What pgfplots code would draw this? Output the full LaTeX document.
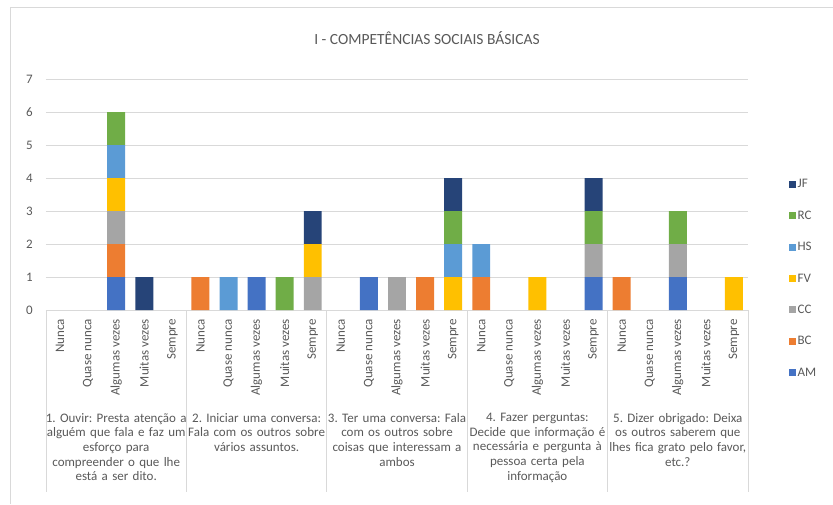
\documentclass[border=0pt]{standalone}
\usepackage{pgfplots}
\usepackage{pgfplotstable}
\usepackage{fontspec}
\setmainfont{Carlito}
\pgfplotsset{compat=1.18}
\definecolor{cAM}{HTML}{4472C4}
\definecolor{cBC}{HTML}{ED7D31}
\definecolor{cCC}{HTML}{A5A5A5}
\definecolor{cFV}{HTML}{FFC000}
\definecolor{cHS}{HTML}{5B9BD5}
\definecolor{cRC}{HTML}{70AD47}
\definecolor{cJF}{HTML}{264478}
\definecolor{txt}{HTML}{595959}
\definecolor{gridc}{HTML}{D9D9D9}

\pgfplotstableread{
x AM BC CC FV HS RC JF
0 0 0 0 0 0 0 0
1 0 0 0 0 0 0 0
2 1 1 1 1 1 1 0
3 0 0 0 0 0 0 1
4 0 0 0 0 0 0 0
5 0 1 0 0 0 0 0
6 0 0 0 0 1 0 0
7 1 0 0 0 0 0 0
8 0 0 0 0 0 1 0
9 0 0 1 1 0 0 1
10 0 0 0 0 0 0 0
11 1 0 0 0 0 0 0
12 0 0 1 0 0 0 0
13 0 1 0 0 0 0 0
14 0 0 0 1 1 1 1
15 0 1 0 0 1 0 0
16 0 0 0 0 0 0 0
17 0 0 0 1 0 0 0
18 0 0 0 0 0 0 0
19 1 0 1 0 0 1 1
20 0 1 0 0 0 0 0
21 0 0 0 0 0 0 0
22 1 0 1 0 0 1 0
23 0 0 0 0 0 0 0
24 0 0 0 1 0 0 0
}\data

\begin{document}
\frenchspacing
\begin{tikzpicture}[font=\fontsize{13}{14.7}\selectfont]
\useasboundingbox (-46pt,-194pt) rectangle (787pt,310pt);
\draw[gridc, line width=0.75pt] (-36pt,-194pt) -- (-36pt,303pt) -- (787pt,303pt);
\begin{axis}[
  at={(0pt,0pt)}, anchor=south west,
  scale only axis, width=702pt, height=231pt,
  ybar stacked, bar width=0.64,
  xmin=-0.5, xmax=24.5, ymin=0, ymax=7,
  ytick={0,1,...,7}, xtick={0,1,...,24},
  xticklabels={Nunca,Quase nunca,Algumas vezes,Muitas vezes,Sempre,
               Nunca,Quase nunca,Algumas vezes,Muitas vezes,Sempre,
               Nunca,Quase nunca,Algumas vezes,Muitas vezes,Sempre,
               Nunca,Quase nunca,Algumas vezes,Muitas vezes,Sempre,
               Nunca,Quase nunca,Algumas vezes,Muitas vezes,Sempre},
  xticklabel style={rotate=90, anchor=east, inner sep=0pt},
  xticklabel shift=9pt,
  yticklabel style={anchor=east, inner sep=0pt},
  yticklabel shift=13pt,
  ticklabel style={font=\fontsize{13}{14.7}\selectfont, text=txt},
  /pgf/number format/assume math mode=true,
  major tick length=0pt, tick style={draw=none},
  ymajorgrids, grid style={gridc, line width=0.75pt},
  axis lines*=left,
  y axis line style={draw=none},
  x axis line style={gridc, line width=0.75pt},
  clip=false,
  legend reversed,
  legend cell align=left,
  legend style={draw=none, fill=none, at={(1.054,0.136)}, anchor=west,
     row sep=18.5pt, font=\fontsize{13}{14.7}\selectfont, text=txt,
     nodes={inner sep=1.5pt}},
  sq/.style={legend image code/.code={\fill[##1] (0pt,-3.5pt) rectangle (7pt,3.5pt);}},
]
\addplot[fill=cAM, draw=none, sq] table[x=x,y=AM]{\data};
\addlegendentry{AM}
\addplot[fill=cBC, draw=none, sq] table[x=x,y=BC]{\data};
\addlegendentry{BC}
\addplot[fill=cCC, draw=none, sq] table[x=x,y=CC]{\data};
\addlegendentry{CC}
\addplot[fill=cFV, draw=none, sq] table[x=x,y=FV]{\data};
\addlegendentry{FV}
\addplot[fill=cHS, draw=none, sq] table[x=x,y=HS]{\data};
\addlegendentry{HS}
\addplot[fill=cRC, draw=none, sq] table[x=x,y=RC]{\data};
\addlegendentry{RC}
\addplot[fill=cJF, draw=none, sq] table[x=x,y=JF]{\data};
\addlegendentry{JF}
\pgfplotsinvokeforeach{-0.5,4.5,9.5,14.5,19.5,24.5}{
  \draw[gridc, line width=0.75pt] (axis cs:#1,0) -- ++(0pt,-182pt);
}
\node[anchor=north, text width=142pt, align=center, inner sep=0pt, text=txt, yshift=-103pt] at (axis cs:2,0)
  {1. Ouvir: Presta atenção a\\alguém que fala e faz um\\esforço para\\compreender o que lhe\\está a ser dito.};
\node[anchor=north, text width=142pt, align=center, inner sep=0pt, text=txt, yshift=-103pt] at (axis cs:7,0)
  {2. Iniciar uma conversa:\\Fala com os outros sobre\\vários assuntos.};
\node[anchor=north, text width=142pt, align=center, inner sep=0pt, text=txt, yshift=-103pt] at (axis cs:12,0)
  {3. Ter uma conversa: Fala\\com os outros sobre\\coisas que interessam a\\ambos};
\node[anchor=north, text width=142pt, align=center, inner sep=0pt, text=txt, yshift=-103pt] at (axis cs:17,0)
  {4. Fazer perguntas:\\Decide que informação é\\necessária e pergunta à\\pessoa certa pela\\informação};
\node[anchor=north, text width=142pt, align=center, inner sep=0pt, text=txt, yshift=-103pt] at (axis cs:22,0)
  {5. Dizer obrigado: Deixa\\os outros saberem que\\lhes fica grato pelo favor,\\etc.?};
\end{axis}
\node[font=\fontsize{15.5}{18}\selectfont, text=txt] at (381pt,272pt) {I - COMPETÊNCIAS SOCIAIS BÁSICAS};
\end{tikzpicture}
\end{document}
